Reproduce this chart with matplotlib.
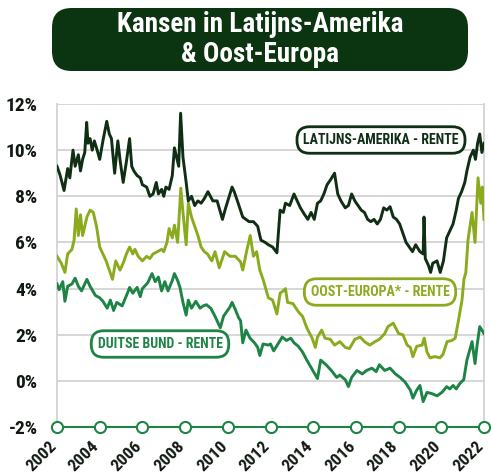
import matplotlib
matplotlib.use("Agg")
import matplotlib.pyplot as plt
import matplotlib.transforms as mtransforms
from matplotlib.patches import FancyBboxPatch
from matplotlib import font_manager

# ---------------- data ----------------
latam_years = [2002.0, 2002.15, 2002.33, 2002.5, 2002.6, 2002.75, 2002.85, 2003.0, 2003.1, 2003.2,
               2003.3, 2003.39, 2003.45, 2003.55, 2003.65, 2003.75, 2003.85, 2004.0, 2004.15, 2004.33,
               2004.45, 2004.55, 2004.7, 2004.85, 2004.95, 2005.1, 2005.25, 2005.4, 2005.5, 2005.6,
               2005.75, 2005.9, 2006.0, 2006.2, 2006.35, 2006.5, 2006.65, 2006.75, 2006.9, 2007.0,
               2007.1, 2007.25, 2007.4, 2007.5, 2007.6, 2007.7, 2007.79, 2007.9, 2008.05, 2008.15,
               2008.3, 2008.45, 2008.6, 2008.75, 2008.9, 2009.07, 2009.3, 2009.5, 2009.75, 2009.9,
               2010.0, 2010.2, 2010.3, 2010.45, 2010.7, 2010.85, 2011.0, 2011.2, 2011.4, 2011.55,
               2011.75, 2011.9, 2012.1, 2012.3, 2012.45, 2012.6, 2012.7, 2012.9, 2013.1, 2013.25,
               2013.4, 2013.6, 2013.75, 2013.9, 2014.05, 2014.2, 2014.35, 2014.5, 2014.65, 2014.8,
               2015.0, 2015.15, 2015.3, 2015.5, 2015.65, 2015.8, 2015.95, 2016.1, 2016.25, 2016.4,
               2016.55, 2016.7, 2016.85, 2017.0, 2017.15, 2017.3, 2017.45, 2017.6, 2017.75, 2017.9,
               2018.05, 2018.2, 2018.35, 2018.5, 2018.65, 2018.8, 2019.0, 2019.15, 2019.19, 2019.25,
               2019.4, 2019.5, 2019.6, 2019.8, 2019.95, 2020.1, 2020.25, 2020.4, 2020.55, 2020.7,
               2020.8, 2020.95, 2021.1, 2021.2, 2021.35, 2021.5, 2021.6, 2021.7, 2021.8, 2021.9,
               2022.0]
latam_values = [9.3, 8.9, 8.25, 9.2, 8.8, 10.0, 9.3, 9.8, 9.1, 9.6,
                9.9, 11.2, 10.3, 10.5, 10.0, 10.4, 10.1, 9.6, 10.4, 11.25,
                10.7, 10.5, 9.0, 10.4, 9.6, 8.6, 9.5, 10.5, 9.3, 9.1,
                8.9, 8.8, 8.5, 8.4, 8.0, 8.1, 8.6, 8.1, 8.3, 8.0,
                8.4, 8.3, 8.9, 10.1, 9.7, 9.3, 11.6, 9.7, 8.6, 7.8,
                8.0, 7.6, 7.8, 7.7, 7.9, 8.2, 7.8, 7.8, 7.0, 7.5,
                7.8, 8.4, 8.2, 7.8, 7.1, 7.0, 6.9, 6.9, 6.7, 6.1,
                6.0, 5.9, 5.8, 5.55, 7.4, 7.3, 7.7, 7.6, 8.1, 7.8,
                7.5, 7.2, 7.0, 7.3, 7.0, 7.7, 7.8, 8.1, 8.5, 8.7,
                9.0, 8.1, 7.8, 7.5, 7.6, 8.1, 7.8, 7.6, 7.4, 7.3,
                7.0, 6.9, 7.0, 6.8, 7.0, 7.5, 7.4, 7.55, 7.1, 7.0,
                6.8, 6.4, 6.0, 5.8, 5.6, 5.9, 5.6, 5.5, 7.1, 5.3,
                5.0, 4.7, 5.1, 5.2, 4.7, 5.2, 6.2, 6.5, 6.8, 7.4,
                7.9, 8.2, 8.6, 9.1, 9.7, 10.0, 9.6, 10.3, 10.7, 9.9,
                10.3]

east_years = [2002.0, 2002.2, 2002.37, 2002.5, 2002.7, 2002.8, 2002.9, 2003.0, 2003.1, 2003.2,
              2003.4, 2003.55, 2003.7, 2003.85, 2004.0, 2004.15, 2004.3, 2004.45, 2004.6, 2004.75,
              2004.95, 2005.1, 2005.25, 2005.4, 2005.55, 2005.65, 2005.8, 2006.0, 2006.2, 2006.35,
              2006.5, 2006.7, 2006.9, 2007.0, 2007.15, 2007.25, 2007.4, 2007.5, 2007.65, 2007.8,
              2007.9, 2008.05, 2008.15, 2008.3, 2008.45, 2008.6, 2008.75, 2008.9, 2009.05, 2009.25,
              2009.4, 2009.6, 2009.85, 2010.1, 2010.35, 2010.6, 2010.7, 2010.9, 2011.05, 2011.2,
              2011.35, 2011.5, 2011.65, 2011.9, 2012.1, 2012.3, 2012.45, 2012.6, 2012.7, 2012.8,
              2013.05, 2013.3, 2013.5, 2013.7, 2013.95, 2014.1, 2014.2, 2014.4, 2014.55, 2014.8,
              2015.0, 2015.25, 2015.5, 2015.7, 2015.95, 2016.2, 2016.4, 2016.65, 2016.9, 2017.1,
              2017.35, 2017.5, 2017.75, 2018.0, 2018.2, 2018.4, 2018.55, 2018.67, 2018.85, 2019.1,
              2019.2, 2019.33, 2019.47, 2019.7, 2019.94, 2020.08, 2020.27, 2020.5, 2020.65, 2020.8,
              2020.97, 2021.06, 2021.15, 2021.25, 2021.44, 2021.58, 2021.72, 2021.85, 2021.92, 2022.0]
east_values = [5.4, 5.1, 4.7, 5.5, 5.7, 6.1, 7.45, 6.3, 7.2, 6.3,
               7.1, 7.4, 7.3, 6.7, 5.8, 5.5, 5.2, 4.8, 4.4, 5.2,
               4.8, 5.1, 5.5, 5.8, 5.5, 5.7, 5.4, 5.2, 5.4, 5.3,
               5.5, 5.6, 5.7, 5.6, 6.0, 6.6, 6.2, 6.75, 6.0, 8.35,
               7.3, 5.9, 7.7, 7.1, 6.7, 6.3, 5.8, 5.6, 5.5, 5.2,
               5.6, 4.9, 5.6, 5.4, 5.4, 5.15, 4.8, 5.7, 6.3, 5.4,
               5.6, 4.8, 4.4, 3.6, 3.5, 2.9, 3.8, 3.9, 4.0, 3.4,
               3.35, 3.0, 2.8, 2.3, 1.85, 1.45, 1.9, 2.2, 1.85, 1.8,
               1.55, 1.7, 1.45, 1.4, 1.8, 1.9, 1.7, 1.55, 1.7, 1.8,
               2.05, 2.35, 2.5, 2.05, 2.0, 1.55, 1.45, 1.05, 1.5, 1.55,
               1.85, 1.25, 1.0, 1.05, 1.0, 1.15, 1.7, 1.75, 1.85, 2.6,
               3.5, 4.4, 4.7, 6.1, 7.3, 6.0, 8.8, 7.7, 8.4, 7.0]

bund_years = [2002.0, 2002.1, 2002.27, 2002.37, 2002.5, 2002.7, 2002.85, 2003.0, 2003.15, 2003.4,
              2003.55, 2003.8, 2004.0, 2004.15, 2004.35, 2004.5, 2004.65, 2004.8, 2005.05, 2005.3,
              2005.4, 2005.55, 2005.75, 2005.9, 2006.0, 2006.25, 2006.45, 2006.6, 2006.75, 2006.9,
              2007.05, 2007.2, 2007.4, 2007.5, 2007.65, 2007.76, 2007.9, 2008.05, 2008.15, 2008.3,
              2008.5, 2008.7, 2008.85, 2009.0, 2009.2, 2009.4, 2009.65, 2009.8, 2009.95, 2010.1,
              2010.2, 2010.35, 2010.5, 2010.6, 2010.7, 2010.85, 2011.04, 2011.25, 2011.4, 2011.5,
              2011.65, 2011.9, 2012.0, 2012.15, 2012.35, 2012.55, 2012.75, 2012.95, 2013.1, 2013.3,
              2013.5, 2013.7, 2013.95, 2014.2, 2014.35, 2014.6, 2014.85, 2015.1, 2015.25, 2015.5,
              2015.65, 2015.8, 2016.05, 2016.3, 2016.5, 2016.75, 2016.95, 2017.1, 2017.35, 2017.6,
              2017.85, 2018.07, 2018.3, 2018.55, 2018.67, 2018.85, 2019.0, 2019.15, 2019.33, 2019.55,
              2019.8, 2020.03, 2020.25, 2020.4, 2020.55, 2020.7, 2020.88, 2021.05, 2021.2, 2021.44,
              2021.58, 2021.67, 2021.8, 2022.0]
bund_values = [4.2, 3.95, 4.3, 3.45, 4.1, 4.2, 4.45, 4.1, 3.9, 4.4,
               4.1, 3.7, 3.6, 3.45, 3.15, 3.5, 3.05, 3.4, 3.25, 3.8,
               4.05, 3.8, 4.05, 3.65, 4.0, 4.25, 4.65, 4.3, 4.5, 3.9,
               4.3, 3.9, 4.35, 4.65, 4.35, 4.05, 3.4, 2.85, 3.5, 3.15,
               3.45, 3.15, 3.25, 3.3, 3.15, 2.8, 2.3, 2.8, 3.0, 3.2,
               3.4, 3.1, 2.75, 2.6, 1.65, 2.2, 1.85, 1.65, 1.45, 1.1,
               1.6, 1.55, 1.6, 1.3, 1.6, 1.9, 1.75, 1.85, 1.65, 1.5,
               1.25, 0.9, 0.5, 0.1, 0.9, 0.7, 0.45, 0.15, 0.25, 0.05,
               -0.25, 0.15, 0.45, 0.3, 0.45, 0.55, 0.4, 0.7, 0.45, 0.55,
               0.3, 0.15, -0.05, -0.4, -0.75, -0.4, -0.2, -0.9, -0.5, -0.55,
               -0.65, -0.5, -0.25, -0.35, -0.2, -0.35, -0.1, 0.05, 0.9, 1.7,
               0.75, 1.5, 2.35, 2.05]

x_ticks = [2002, 2004, 2006, 2008, 2010, 2012, 2014, 2016, 2018, 2020, 2022]
y_ticks = [-2, 0, 2, 4, 6, 8, 10, 12]
title_text = "Kansen in Latijns-Amerika\n& Oost-Europa"
label_latam = "LATIJNS-AMERIKA - RENTE"
label_east = "OOST-EUROPA* - RENTE"
label_bund = "DUITSE BUND - RENTE"

# ---------------- style ----------------
names = {f.name for f in font_manager.fontManager.ttflist}
cands = ["Liberation Sans Narrow", "Roboto Condensed", "Open Sans Condensed", "DejaVu Sans"]
FONT = [n for n in cands if n in names] or ["DejaVu Sans"]
plt.rcParams["font.family"] = FONT
plt.rcParams["font.stretch"] = "condensed"
C_DARK = "#0f2e14"
C_EAST = "#8bab1e"
C_BUND = "#1d8446"
C_TITLE = "#0b3510"
C_GRID = "#d3d3d3"
C_TEXT = "#111a12"

narrow = FONT[0] != "DejaVu Sans"
TICK_FS = 14 if narrow else 11.5
XTICK_FS = 12.5 if narrow else 10.5
TITLE_FS = 19.5 if narrow else 15.5
LABEL_FS = 10 if narrow else 8.5

W, H = 491, 475
fig = plt.figure(figsize=(W / 100, H / 100), dpi=100)
fig.patch.set_facecolor("white")

ax = fig.add_axes([57 / W, 1 - 427 / H, (484 - 57) / W, (427 - 104) / H])
ax.set_xlim(2002, 2022)
ax.set_ylim(-2, 12)

for y in y_ticks[1:]:
    ax.axhline(y, color=C_GRID, lw=1.3, zorder=0)

lw = 2.1
ax.plot(bund_years, bund_values, color=C_BUND, lw=lw, zorder=3, solid_joinstyle="round")
ax.plot(east_years, east_values, color=C_EAST, lw=lw, zorder=3, solid_joinstyle="round")
ax.plot(latam_years, latam_values, color=C_DARK, lw=lw, zorder=3, solid_joinstyle="round")

for s in ["top", "bottom"]:
    ax.spines[s].set_visible(False)
for s in ["left", "right"]:
    ax.spines[s].set_color(C_GRID)
    ax.spines[s].set_linewidth(1.3)

# bottom axis line with circles
ax.axhline(-2, color=C_BUND, lw=1.5, zorder=4, clip_on=False)
ax.plot(x_ticks, [-2] * len(x_ticks), linestyle="none", marker="o", ms=8,
        mfc="white", mec=C_BUND, mew=1.5, zorder=5, clip_on=False)

ax.set_xticks(x_ticks)
ax.set_yticks(y_ticks)
ax.set_yticklabels([f"{v}%" for v in y_ticks], fontsize=TICK_FS, fontweight="bold", color=C_TEXT)
ax.set_xticklabels([str(v) for v in x_ticks], fontsize=XTICK_FS, fontweight="bold", color=C_TEXT,
                   rotation=45, ha="right", va="center", rotation_mode="anchor")
ax.tick_params(axis="both", length=0)
ax.tick_params(axis="y", pad=14)
ax.tick_params(axis="x", pad=12)
shift = mtransforms.ScaledTranslation(-3 / 100, 0, fig.dpi_scale_trans)
for t in ax.get_xticklabels():
    t.set_transform(t.get_transform() + shift)

# title box
tb = FancyBboxPatch((52 / W, 1 - 71 / H), (468 - 52) / W, (71 - 8) / H,
                    boxstyle="round,pad=0,rounding_size=0.04", transform=fig.transFigure,
                    facecolor=C_TITLE, edgecolor="none", mutation_aspect=W / H)
fig.patches.append(tb)
fig.text(260 / W, 1 - 39.5 / H, title_text, ha="center", va="center", color="white",
         fontsize=TITLE_FS, fontweight="bold", linespacing=1.12)


def label(xc, yc, text, color):
    fig.text(xc / W, 1 - yc / H, text, ha="center", va="center", color=color,
             fontsize=LABEL_FS, fontweight="bold",
             bbox=dict(boxstyle="round,pad=0.45,rounding_size=0.9", facecolor="white",
                       edgecolor=color, linewidth=2))


label(381, 140, label_latam, C_DARK)
label(380, 292, label_east, C_EAST)
label(160, 344, label_bund, C_BUND)

fig.savefig("out.png", dpi=100, facecolor="white")
